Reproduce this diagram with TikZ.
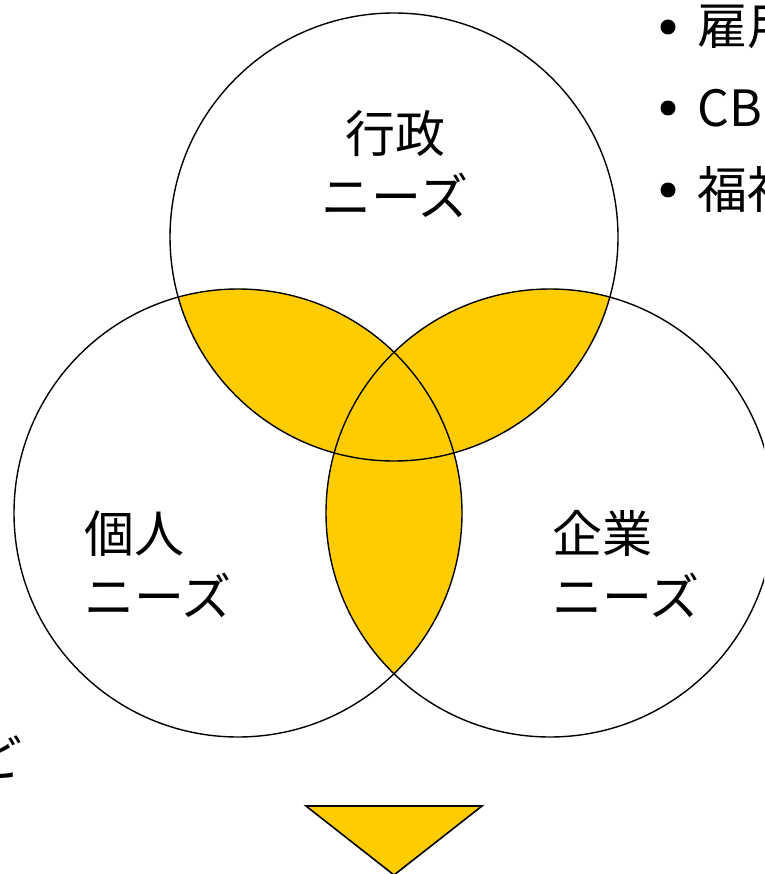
\documentclass[tikz,border=0pt]{standalone}
\usepackage{fontspec}
\newfontfamily\jp{Noto Sans CJK JP}
\definecolor{lensyellow}{HTML}{FFCC00}
\tikzset{
  needcircle/.style={draw=black, circle, line width=1.4pt, minimum size=448pt, inner sep=0pt},
  bigtext/.style={font=\jp\fontsize{50}{63}\selectfont, inner sep=0pt},
  bulletdot/.style={fill=black, circle, minimum size=15pt, inner sep=0pt},
}
\begin{document}
\begin{tikzpicture}[x=1pt,y=-1pt]
\useasboundingbox (0,0) rectangle (764,874);
\clip (0,0) rectangle (764,874);
\coordinate (ct) at (394,237);
\coordinate (cl) at (238,513);
\coordinate (cr) at (550,513);
% lens fills
\begin{scope}
  \clip (ct) circle[radius=224pt];
  \fill[lensyellow] (cl) circle[radius=224pt];
  \fill[lensyellow] (cr) circle[radius=224pt];
\end{scope}
\begin{scope}
  \clip (cl) circle[radius=224pt];
  \fill[lensyellow] (cr) circle[radius=224pt];
\end{scope}
% circles
\node[needcircle] (topc) at (ct) {};
\node[needcircle] (leftc) at (cl) {};
\node[needcircle] (rightc) at (cr) {};
% labels
\node[bigtext, align=center] (gyosei) at (395,164) {行政\\ニーズ};
\node[bigtext, align=left, anchor=west] (kojin) at (84,564) {個人\\ニーズ};
\node[bigtext, align=left, anchor=west] (kigyo) at (552,564) {企業\\ニーズ};
% bullets at right (cut off)
\node[bulletdot] (b1) at (668,27) {};
\node[bulletdot] (b2) at (668,108) {};
\node[bulletdot] (b3) at (668,190) {};
\node[bigtext, anchor=west] (t1) at (697,27) {雇用};
\node[bigtext, anchor=west] (t2) at (697,108) {CB};
\node[bigtext, anchor=west] (t3) at (697,190) {福祉};
% bottom-left partial text
\node[bigtext, anchor=east] (nado) at (23,757) {など};
% arrow triangle
\draw[fill=lensyellow, line width=1.6pt, line join=miter] (306,806) -- (482,806) -- (394,875) -- cycle;
\end{tikzpicture}
\end{document}
